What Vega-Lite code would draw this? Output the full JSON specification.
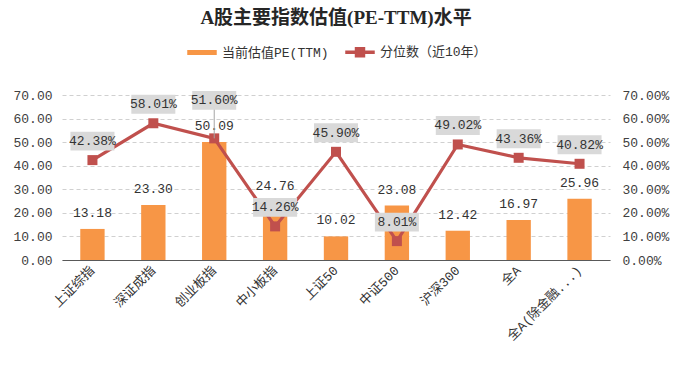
{
  "$schema": "https://vega.github.io/schema/vega-lite/v6.json",
  "width": 548,
  "height": 165,
  "autosize": {"type": "none"},
  "padding": {"left": 62, "top": 95, "right": 69, "bottom": 106},
  "background": "white",
  "title": {
    "text": "A股主要指数估值(PE-TTM)水平",
    "font": "Liberation Serif, Noto Sans CJK SC",
    "fontSize": 19,
    "fontWeight": "bold",
    "color": "#262626",
    "anchor": "middle",
    "offset": 9
  },
  "config": {
    "font": "Liberation Mono, Noto Sans CJK SC",
    "view": {"stroke": null},
    "axis": {"labelFont": "Liberation Mono, Noto Sans CJK SC", "labelFontSize": 13, "labelColor": "#404040", "title": null}
  },
  "data": {
    "values": [
      {"name": "上证综指", "pe": 13.18, "pct": 0.4238},
      {"name": "深证成指", "pe": 23.30, "pct": 0.5801},
      {"name": "创业板指", "pe": 50.09, "pct": 0.5160},
      {"name": "中小板指", "pe": 24.76, "pct": 0.1426},
      {"name": "上证50", "pe": 10.02, "pct": 0.4590},
      {"name": "中证500", "pe": 23.08, "pct": 0.0801},
      {"name": "沪深300", "pe": 12.42, "pct": 0.4902},
      {"name": "全A", "pe": 16.97, "pct": 0.4336},
      {"name": "全A(除金融...)", "pe": 25.96, "pct": 0.4082}
    ]
  },
  "encoding": {
    "x": {
      "field": "name",
      "type": "nominal",
      "sort": null,
      "scale": {"paddingInner": 0.6, "paddingOuter": 0.3},
      "axis": {
        "labelAngle": -45,
        "labelAlign": "right",
        "labelBaseline": "middle",
        "labelPadding": 8,
        "ticks": false,
        "domainColor": "#595959",
        "domainWidth": 1.2,
        "labelColor": "#333333"
      }
    }
  },
  "layer": [
    {
      "encoding": {
        "y": {
          "field": "pe",
          "type": "quantitative",
          "scale": {"domain": [0, 70]},
          "axis": {
            "values": [0, 10, 20, 30, 40, 50, 60, 70],
            "format": ".2f",
            "domain": false,
            "ticks": false,
            "labelPadding": 10,
            "grid": true,
            "gridDash": [4, 3],
            "gridColor": "#d0d0d0"
          }
        }
      },
      "layer": [
        {
          "mark": {"type": "bar"},
          "encoding": {
            "color": {
              "datum": "当前估值PE(TTM)",
              "scale": {"domain": ["当前估值PE(TTM)", "分位数（近10年）"], "range": ["#F79646", "#C0504D"]},
              "legend": {
                "title": null,
                "orient": "none",
                "legendX": 125,
                "legendY": -58,
                "direction": "horizontal",
                "columns": 2,
                "columnPadding": 14,
                "symbolSize": 784,
                "labelFontSize": 13,
                "labelColor": "#333333",
                "labelOffset": 5,
                "labelFont": "Liberation Mono, Noto Sans CJK SC",
                "encode": {
                  "symbols": {
                    "update": {
                      "shape": {"signal": "datum.index === 0 ? 'M-1,-0.12L1,-0.12L1,0.12L-1,0.12Z' : 'M-1,-0.07L1,-0.07L1,0.07L-1,0.07Z M-0.32,-0.32L0.32,-0.32L0.32,0.32L-0.32,0.32Z'"},
                      "fill": {"signal": "datum.index === 0 ? '#F79646' : '#C0504D'"},
                      "stroke": {"value": "transparent"},
                      "opacity": {"value": 1},
                      "fillOpacity": {"value": 1}
                    }
                  }
                }
              }
            }
          }
        },
        {
          "mark": {"type": "text", "dy": -16, "baseline": "middle", "fontSize": 13, "color": "#333333"},
          "encoding": {"text": {"field": "pe", "type": "quantitative", "format": ".2f"}}
        }
      ]
    },
    {
      "encoding": {
        "y": {
          "field": "pct",
          "type": "quantitative",
          "scale": {"domain": [0, 0.7]},
          "axis": {
            "orient": "right",
            "values": [0, 0.1, 0.2, 0.3, 0.4, 0.5, 0.6, 0.7],
            "format": ".2%",
            "domain": false,
            "ticks": false,
            "grid": false,
            "labelPadding": 12
          }
        }
      },
      "layer": [
        {
          "mark": {"type": "line", "strokeWidth": 3.2, "point": {"shape": "square", "size": 100, "filled": true}},
          "encoding": {"color": {"datum": "分位数（近10年）"}}
        },
        {
          "transform": [{"filter": "datum.name === '创业板指'"}],
          "mark": {"type": "rule", "color": "#a6a6a6", "strokeWidth": 1, "y2Offset": -30},
          "encoding": {"y2": {"field": "pct"}}
        },
        {
          "transform": [{"filter": "datum.name !== '创业板指'"}],
          "mark": {"type": "point", "shape": "M-1,-0.43L1,-0.43L1,0.43L-1,0.43Z", "size": 1936, "filled": true, "color": "#d9d9d9", "opacity": 1, "yOffset": -19}
        },
        {
          "transform": [{"filter": "datum.name === '创业板指'"}],
          "mark": {"type": "point", "shape": "M-1,-0.43L1,-0.43L1,0.43L-1,0.43Z", "size": 1936, "filled": true, "color": "#d9d9d9", "opacity": 1, "yOffset": -38}
        },
        {
          "transform": [{"filter": "datum.name !== '创业板指'"}],
          "mark": {"type": "text", "baseline": "middle", "fontSize": 13, "color": "#333333", "yOffset": -19},
          "encoding": {"text": {"field": "pct", "type": "quantitative", "format": ".2%"}}
        },
        {
          "transform": [{"filter": "datum.name === '创业板指'"}],
          "mark": {"type": "text", "baseline": "middle", "fontSize": 13, "color": "#333333", "yOffset": -38},
          "encoding": {"text": {"field": "pct", "type": "quantitative", "format": ".2%"}}
        }
      ]
    }
  ],
  "resolve": {"scale": {"y": "independent"}}
}
